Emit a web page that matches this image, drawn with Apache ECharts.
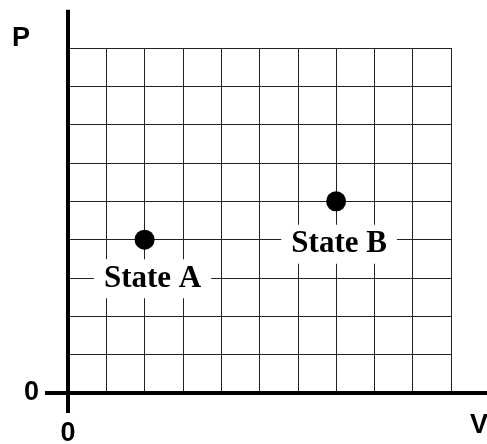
<!DOCTYPE html>
<html>
<head>
  <title>P-V States</title>
  <script src="https://cdn.jsdelivr.net/npm/echarts@6/dist/echarts.min.js"></script>
  <style>
    html, body { margin: 0; padding: 0; background: #fff; }
  </style>
</head>
<body>
  <div id="chartContainer" style="width: 487px; height: 444px;"></div>

  <script>
    // States on the P-V grid (V, P in grid units)
    const stateNames = ['State A', 'State B'];
    const stateV = [2, 7];
    const stateP = [4, 5];

    // Grid extent
    const vMax = 10;
    const pMax = 9;

    // Thick axis lines, running a little past the grid: [x1, y1, x2, y2]
    const axisLines = [
      [-0.6, 0, 11, 0],
      [0, -0.52, 0, 10]
    ];

    const chartContainer = document.getElementById('chartContainer');
    const myChart = echarts.init(chartContainer);

    const sansBold = { fontFamily: 'Liberation Sans', fontWeight: 'bold', fontSize: 27, color: '#000' };

    const labelBase = {
      show: true,
      position: 'inside',
      fontFamily: 'Liberation Serif',
      fontWeight: 'bold',
      fontSize: 31,
      lineHeight: 31,
      color: '#000',
      backgroundColor: '#fff',
      padding: [4, 10]
    };
    const labelOffsets = [[8, 39], [3, 43]];

    const option = {
      animation: false,
      grid: { left: 68, right: 36, top: 48, bottom: 51, outerBoundsMode: 'none', containLabel: false },
      xAxis: {
        type: 'value',
        min: 0,
        max: vMax,
        interval: 1,
        name: 'V',
        nameLocation: 'end',
        nameGap: 19,
        nameTextStyle: Object.assign({}, sansBold, { verticalAlign: 'top', padding: [9, 0, 0, 0] }),
        axisLine: { show: false },
        axisTick: { show: false },
        axisLabel: Object.assign({}, sansBold, {
          margin: 17,
          formatter: v => (v === 0 ? '0' : '')
        }),
        splitLine: { show: true, lineStyle: { color: '#222', width: 1 } }
      },
      yAxis: {
        type: 'value',
        min: 0,
        max: pMax,
        interval: 1,
        name: 'P',
        nameLocation: 'end',
        nameGap: 9,
        nameTextStyle: Object.assign({}, sansBold, { align: 'right', verticalAlign: 'middle', padding: [0, 38, 0, 0] }),
        axisLine: { show: false },
        axisTick: { show: false },
        axisLabel: Object.assign({}, sansBold, {
          margin: 29,
          padding: [16, 0, 0, 0],
          formatter: v => (v === 0 ? '0' : '')
        }),
        splitLine: { show: true, lineStyle: { color: '#222', width: 1 } }
      },
      series: [
        {
          // thick axis lines
          type: 'custom',
          clip: false,
          z: 3,
          data: axisLines,
          renderItem: (params, api) => {
            const p1 = api.coord([api.value(0), api.value(1)]);
            const p2 = api.coord([api.value(2), api.value(3)]);
            return {
              type: 'line',
              shape: { x1: p1[0], y1: p1[1], x2: p2[0], y2: p2[1] },
              style: { stroke: '#000', lineWidth: 4 }
            };
          }
        },
        {
          type: 'scatter',
          symbol: 'circle',
          symbolSize: 20,
          z: 4,
          itemStyle: { color: '#000', opacity: 1 },
          emphasis: { disabled: true },
          data: stateNames.map((name, i) => ({
            name: name,
            value: [stateV[i], stateP[i]],
            label: Object.assign({}, labelBase, { formatter: name, offset: labelOffsets[i] })
          })),
          label: labelBase
        }
      ]
    };

    myChart.setOption(option);
  </script>
</body>
</html>
